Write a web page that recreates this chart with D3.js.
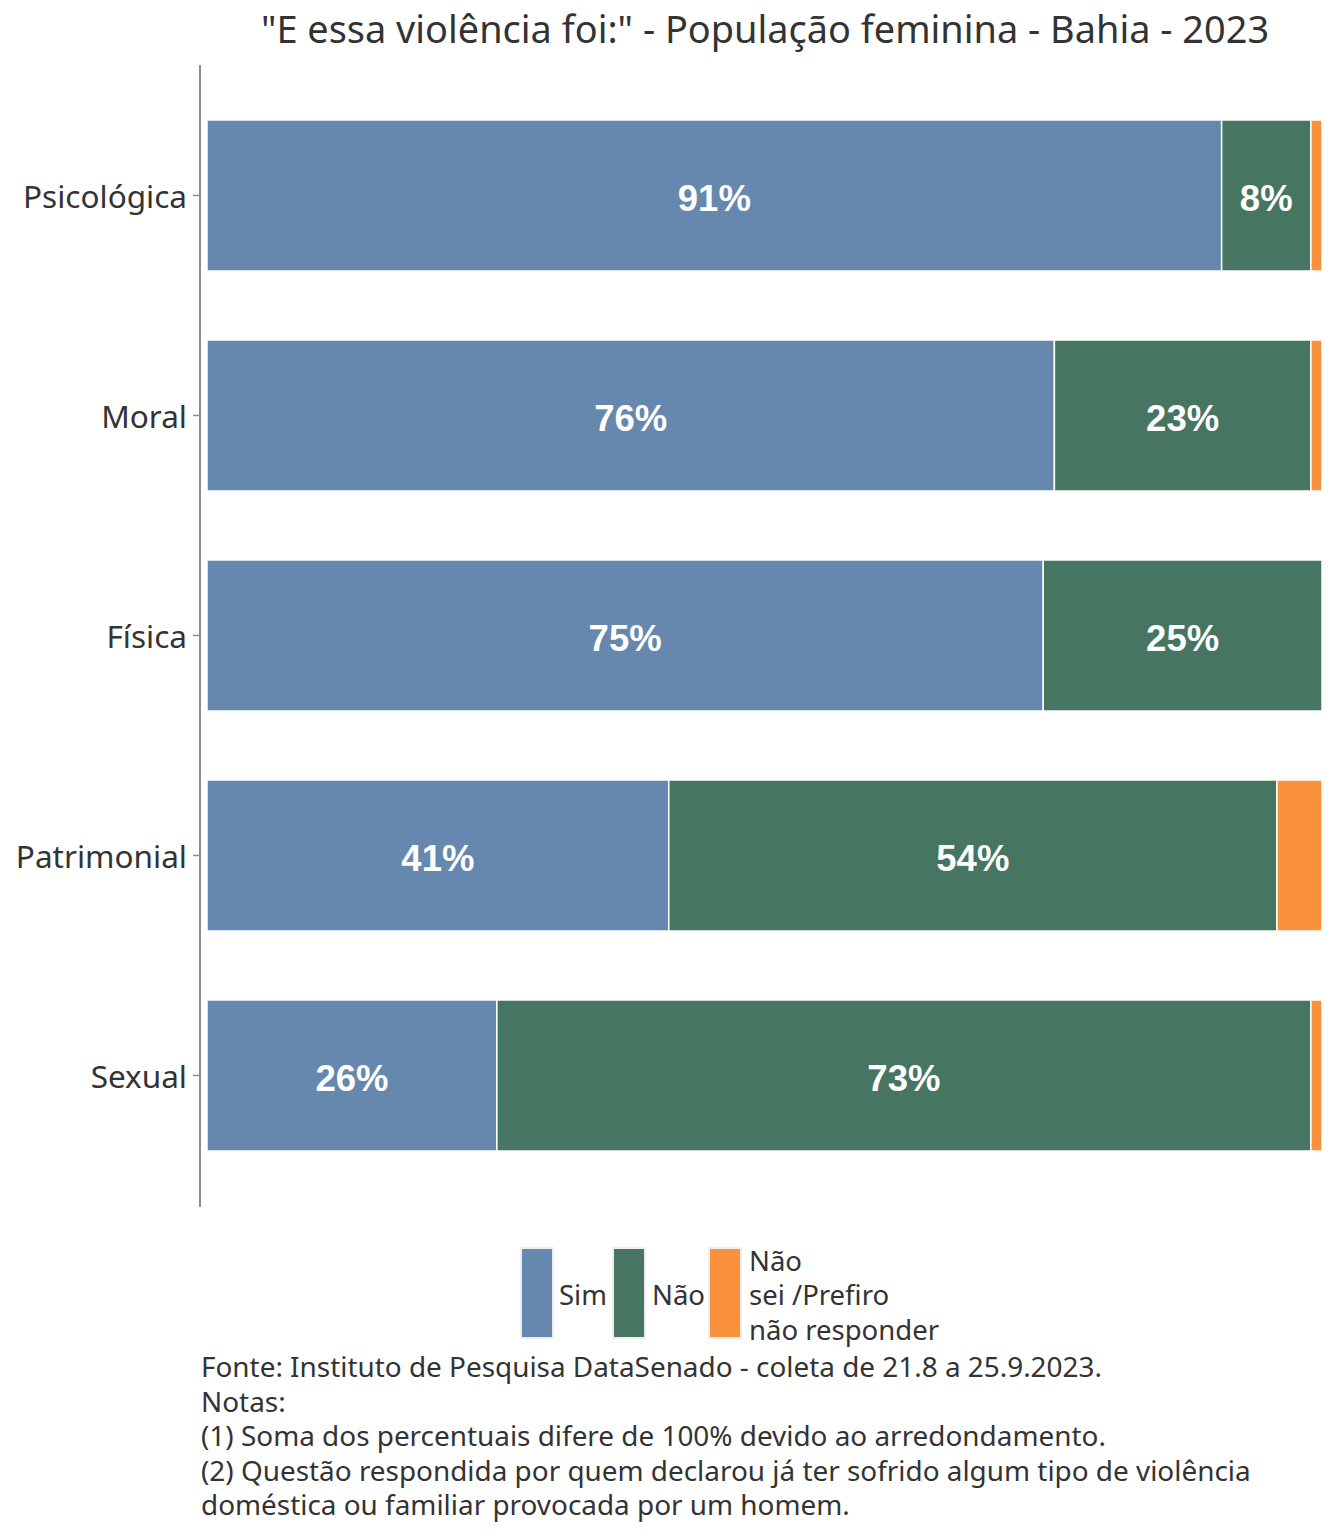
<!DOCTYPE html>
<html><head><meta charset="utf-8">
<script src="https://cdn.jsdelivr.net/npm/d3@7"></script>
<style>body{margin:0;background:#fff}</style>
</head><body>
<svg id="c" width="1344" height="1536"></svg>
<script>
const categories = ["Psicológica","Moral","Física","Patrimonial","Sexual"];
const seriesNames = ["Sim","Não","Não sei /Prefiro não responder"];
const sim = [91,76,75,41,26];
const nao = [8,23,25,54,73];
const nsnr = [1,1,0,4,1];
const colors = ["#6688AF","#467562","#FA923D"];
const title = "\"E essa violência foi:\" - População feminina - Bahia - 2023";
const caption = [
 "Fonte: Instituto de Pesquisa DataSenado - coleta de 21.8 a 25.9.2023.",
 "Notas:",
 "(1) Soma dos percentuais difere de 100% devido ao arredondamento.",
 "(2) Questão respondida por quem declarou já ter sofrido algum tipo de violência",
 "doméstica ou familiar provocada por um homem."
];
const font = "'Noto Sans', 'Open Sans', sans-serif";
const svg = d3.select("#c");
const m = {left:207, right:1322, top:65, bottom:1207};
const data = categories.map((c,i)=>({cat:c, v:[sim[i],nao[i],nsnr[i]]}));
const x = d3.scaleLinear().domain([0,1]).range([m.left, m.right]);
const y = d3.scaleBand().domain(categories).range([85.5, 1185.5]).paddingInner(0.3136).paddingOuter(0.1568);
const segs = [];
data.forEach(d=>{
  const tot = d3.sum(d.v); let acc=0;
  d.v.forEach((v,j)=>{ const s=acc/tot, e=(acc+v)/tot; acc+=v;
    if(v>0) segs.push({cat:d.cat, j, v, s, e}); });
});
const g = svg.append("g");
g.selectAll("rect.bar").data(segs).join("rect")
 .attr("x",d=>x(d.s)).attr("width",d=>x(d.e)-x(d.s))
 .attr("y",d=>y(d.cat)).attr("height",y.bandwidth())
 .attr("fill",d=>colors[d.j]).attr("stroke","#fff").attr("stroke-width",1.5);
g.selectAll("text.lab").data(segs.filter(d=>d.v>=5)).join("text")
 .attr("x",d=>(x(d.s)+x(d.e))/2).attr("y",d=>y(d.cat)+y.bandwidth()/2+3)
 .attr("text-anchor","middle").attr("dominant-baseline","central")
 .attr("font-family","'Liberation Sans', Arial, sans-serif").attr("font-weight","bold")
 .attr("font-size",36.5).attr("fill","#fff").text(d=>d.v+"%");
const ax = svg.append("g").attr("transform",`translate(200,0)`)
 .call(d3.axisLeft(y).tickSize(7).tickPadding(6));
ax.select(".domain").attr("stroke","#8c8c8c").attr("stroke-width",2)
 .attr("d",`M0,${m.top}V${m.bottom}`);
ax.selectAll(".tick line").attr("stroke","#8c8c8c").attr("stroke-width",1.5);
ax.selectAll(".tick text").attr("font-family",font).attr("font-size",31.5).attr("fill","#333").attr("dy","0.4em");
svg.append("text").attr("x",765).attr("y",43).attr("text-anchor","middle")
 .attr("font-family",font).attr("font-size",37.9).attr("fill","#333").text(title);
const lg = svg.append("g");
const keyX = [521,613,709];
const labX = [559,652,749];
seriesNames.forEach((n,i)=>{
  lg.append("rect").attr("x",keyX[i]).attr("y",1248).attr("width",32).attr("height",90)
    .attr("fill",colors[i]).attr("stroke","#eee").attr("stroke-width",2);
});
lg.append("text").attr("x",labX[0]).attr("y",1294).attr("dominant-baseline","central")
 .attr("font-family",font).attr("font-size",27.5).attr("fill","#333").text("Sim");
lg.append("text").attr("x",labX[1]).attr("y",1294).attr("dominant-baseline","central")
 .attr("font-family",font).attr("font-size",27.5).attr("fill","#333").text("Não");
const lines3 = ["Não","sei /Prefiro","não responder"];
lines3.forEach((t,k)=>{
  lg.append("text").attr("x",labX[2]).attr("y",1260+k*34.5).attr("dominant-baseline","central")
   .attr("font-family",font).attr("font-size",27.5).attr("fill","#333").text(t);
});
caption.forEach((t,k)=>{
  svg.append("text").attr("x",201).attr("y",1377+k*34.5)
   .attr("font-family",font).attr("font-size",27.9).attr("fill","#333").text(t);
});
</script>
</body></html>
